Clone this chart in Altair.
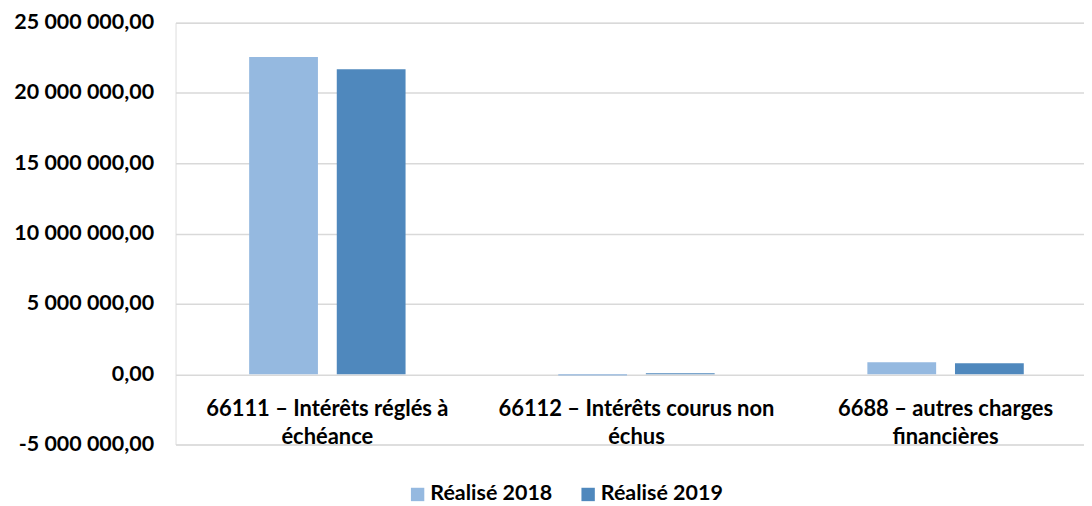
import altair as alt
import pandas as pd

categories = ["66111 – Intérêts réglés à|échéance",
              "66112 – Intérêts courus non|échus",
              "6688 – autres charges|financières"]
series = ["Réalisé 2018", "Réalisé 2019"]
values_2018 = [22550000, -100000, 850000]
values_2019 = [21680000, 60000, 780000]
colors = ["#95B9E0", "#4F88BD"]

rows = []
for c, a, b in zip(categories, values_2018, values_2019):
    rows.append({"cat": c, "serie": series[0], "val": a})
    rows.append({"cat": c, "serie": series[1], "val": b})
df = pd.DataFrame(rows)

FONT = "Lato"
FS = 21.5

chart = alt.Chart(df).mark_bar().encode(
    x=alt.X("cat:N", sort=categories, title=None,
            scale=alt.Scale(paddingInner=0.494, paddingOuter=0.2165, align=0.55),
            axis=alt.Axis(labelAngle=0, domain=False, ticks=False, offset=-71,
                          labelPadding=25, labelExpr="split(datum.label, '|')",
                          labelFont=FONT, labelFontSize=22, labelFontWeight="bold",
                          labelColor="#000000", labelLineHeight=28, labelLimit=400)),
    xOffset=alt.XOffset("serie:N", sort=series,
                        scale=alt.Scale(paddingInner=0.215, paddingOuter=0)),
    y=alt.Y("val:Q", title=None,
            scale=alt.Scale(domain=[-5000000, 25000000], nice=False),
            axis=alt.Axis(values=[-5000000, 0, 5000000, 10000000, 15000000, 20000000, 25000000],
                          format=",.2f", domain=False, ticks=False, labelPadding=22,
                          labelFont=FONT, labelFontSize=FS, labelFontWeight="bold",
                          labelColor="#000000", gridColor="#D9D9D9", gridWidth=1.5)),
    color=alt.Color("serie:N", sort=series,
                    scale=alt.Scale(domain=series, range=colors),
                    legend=alt.Legend(title=None, orient="none", direction="horizontal",
                                      legendX=232, legendY=462, padding=0,
                                      symbolType="square", symbolSize=180, symbolStrokeWidth=0,
                                      symbolOffset=0, labelOffset=2,
                                      labelFont=FONT, labelFontSize=FS, labelFontWeight="bold",
                                      labelColor="#000000", columnPadding=25)),
).properties(
    width=911, height=423,
    padding={"top": 3, "left": 5, "right": 0, "bottom": 0},
).configure_view(stroke=None).configure(
    locale={"number": {"decimal": ",", "thousands": " ", "grouping": [3],
                       "currency": ["", " €"], "minus": "-"}}
)

chart.save("out.html", embed_options={"renderer": "svg", "actions": False})
